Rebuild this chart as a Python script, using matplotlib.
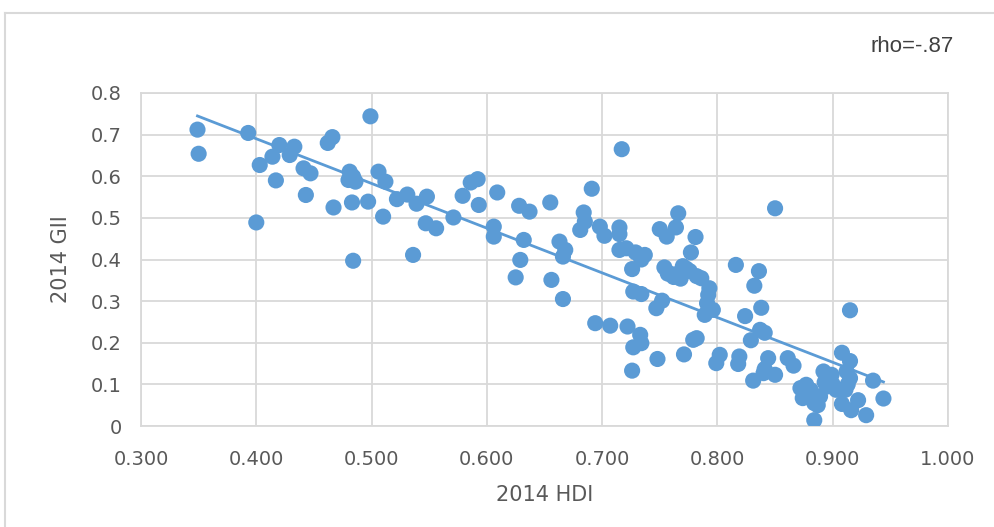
import numpy as np
import matplotlib.pyplot as plt
from matplotlib.lines import Line2D

# HDI 2014 (x) y GII 2014 (y)
hdi = [0.349, 0.350, 0.393, 0.400, 0.403, 0.414, 0.417, 0.420, 0.429, 0.433,
       0.441, 0.443, 0.447, 0.462, 0.466, 0.467, 0.480, 0.481, 0.484, 0.486,
       0.483, 0.484, 0.497, 0.499, 0.506, 0.512, 0.510, 0.522, 0.531, 0.539,
       0.536, 0.548, 0.547, 0.556, 0.571, 0.579, 0.586, 0.592, 0.593, 0.609,
       0.606, 0.606, 0.628, 0.637, 0.632, 0.629, 0.625, 0.655, 0.656, 0.663,
       0.668, 0.666, 0.666, 0.691, 0.684, 0.685, 0.681, 0.698, 0.702, 0.715,
       0.715, 0.717, 0.715, 0.721, 0.729, 0.737, 0.734, 0.726, 0.694, 0.707,
       0.722, 0.733, 0.734, 0.727, 0.726, 0.727, 0.734, 0.747, 0.752, 0.748,
       0.771, 0.779, 0.782, 0.750, 0.756, 0.764, 0.766, 0.781, 0.777, 0.754,
       0.757, 0.762, 0.768, 0.770, 0.776, 0.767, 0.773, 0.786, 0.816, 0.836,
       0.832, 0.793, 0.792, 0.791, 0.796, 0.789, 0.838, 0.824, 0.837, 0.841,
       0.829, 0.802, 0.799, 0.819, 0.818, 0.844, 0.841, 0.850, 0.831, 0.840,
       0.861, 0.866, 0.850, 0.915, 0.908, 0.915, 0.935, 0.944, 0.892, 0.899,
       0.915, 0.912, 0.872, 0.877, 0.874, 0.884, 0.889, 0.895, 0.903, 0.911,
       0.908, 0.916, 0.922, 0.929, 0.884, 0.880, 0.887, 0.893, 0.900, 0.881,
       0.913, 0.760, 0.782]
gii = [0.712, 0.654, 0.704, 0.489, 0.627, 0.647, 0.590, 0.675, 0.651, 0.671,
       0.619, 0.555, 0.607, 0.680, 0.694, 0.525, 0.591, 0.611, 0.599, 0.587,
       0.537, 0.397, 0.539, 0.744, 0.611, 0.587, 0.503, 0.545, 0.556, 0.534,
       0.411, 0.551, 0.487, 0.475, 0.501, 0.553, 0.585, 0.593, 0.531, 0.561,
       0.479, 0.455, 0.529, 0.515, 0.447, 0.399, 0.357, 0.537, 0.351, 0.443,
       0.423, 0.407, 0.305, 0.570, 0.513, 0.491, 0.471, 0.479, 0.457, 0.477,
       0.461, 0.665, 0.423, 0.427, 0.417, 0.411, 0.400, 0.377, 0.247, 0.241,
       0.239, 0.219, 0.199, 0.189, 0.133, 0.323, 0.317, 0.283, 0.301, 0.161,
       0.172, 0.207, 0.211, 0.473, 0.455, 0.477, 0.511, 0.454, 0.417, 0.381,
       0.366, 0.358, 0.354, 0.384, 0.372, 0.368, 0.378, 0.355, 0.387, 0.372,
       0.337, 0.331, 0.315, 0.295, 0.279, 0.267, 0.284, 0.264, 0.231, 0.224,
       0.206, 0.171, 0.151, 0.167, 0.149, 0.163, 0.137, 0.123, 0.109, 0.127,
       0.163, 0.145, 0.523, 0.278, 0.176, 0.156, 0.109, 0.066, 0.131, 0.123,
       0.115, 0.131, 0.091, 0.099, 0.067, 0.055, 0.071, 0.095, 0.087, 0.087,
       0.053, 0.038, 0.062, 0.026, 0.014, 0.080, 0.050, 0.105, 0.100, 0.086,
       0.100, 0.365, 0.360]

x_ticks = [0.3, 0.4, 0.5, 0.6, 0.7, 0.8, 0.9, 1.0]
y_ticks = [0, 0.1, 0.2, 0.3, 0.4, 0.5, 0.6, 0.7, 0.8]

azul = '#5B9BD5'
gris = '#595959'
fuente = ['DejaVu Sans']

fig = plt.figure(figsize=(9.94, 5.27), dpi=100)
ax = fig.add_axes([141/994, 1-426/527, (948-141)/994, (426-93)/527])

ax.scatter(hdi, gii, s=135, color=azul, edgecolors='none', zorder=3)

# linea de tendencia (ajuste lineal)
m, b = np.polyfit(hdi, gii, 1)
xl = np.array([min(hdi), max(hdi)])
ax.plot(xl, m*xl + b, color=azul, lw=2.0, zorder=4)

ax.set_xlim(0.3, 1.0)
ax.set_ylim(0, 0.8)
ax.set_xticks(x_ticks)
ax.set_xticklabels(['%.3f' % v for v in x_ticks])
ax.set_yticks(y_ticks)
ax.set_yticklabels(['0'] + ['%.1f' % v for v in y_ticks[1:]])
ax.tick_params(length=0, labelcolor=gris, labelsize=14)
ax.tick_params(axis='x', pad=17)
ax.tick_params(axis='y', pad=14)
for lab in ax.get_xticklabels() + ax.get_yticklabels():
    lab.set_family(fuente)
ax.grid(True, color='#D9D9D9', lw=1.3)
ax.set_axisbelow(True)
for s in ax.spines.values():
    s.set_color('#D9D9D9')
    s.set_linewidth(1.3)

ax.set_xlabel('2014 HDI', family=fuente, fontsize=15, color=gris, labelpad=12)
ax.set_ylabel('2014 GII', family=fuente, fontsize=15, color=gris, labelpad=14)

fig.text(912/994, 1-47/527, 'rho=-.87', ha='center', va='center',
         fontsize=16, color='#404040', family=['Liberation Sans', 'DejaVu Sans'])

# marco del grafico
yt = 1 - 13/527
xl0 = 5/994
fig.add_artist(Line2D([xl0, 1], [yt, yt], color='#D9D9D9', lw=1.5))
fig.add_artist(Line2D([xl0, xl0], [0, yt], color='#D9D9D9', lw=1.5))

fig.savefig('out.png', dpi=100)
